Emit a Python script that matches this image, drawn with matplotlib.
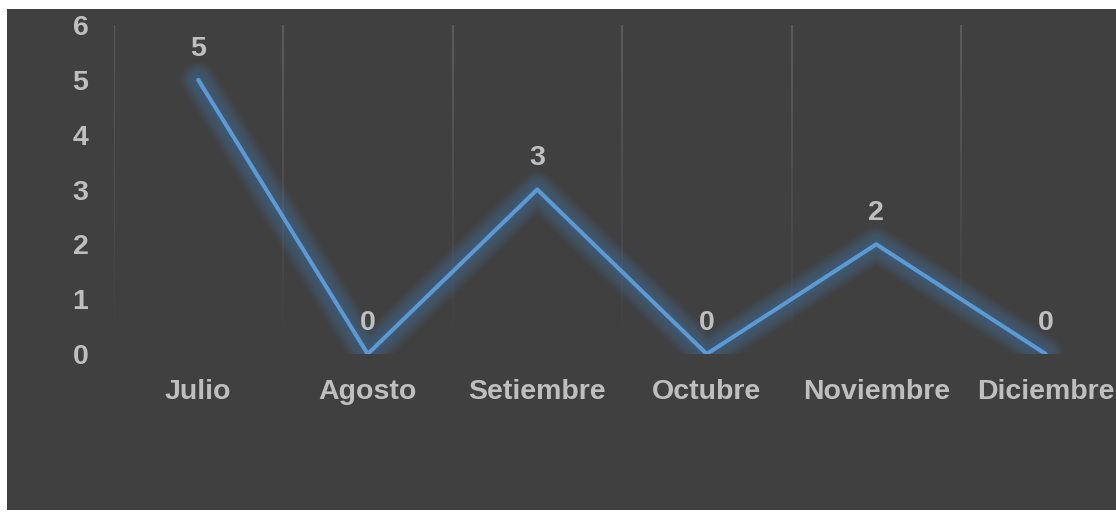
import matplotlib.pyplot as plt
import numpy as np
from matplotlib.patches import Rectangle
from matplotlib.collections import LineCollection

months = ['Julio', 'Agosto', 'Setiembre', 'Octubre', 'Noviembre', 'Diciembre']
cases = [5, 0, 3, 0, 2, 0]
y_ticks = [0, 1, 2, 3, 4, 5, 6]

bg = '#404040'
text_color = '#bfbfbf'
line_color = '#5b9bd5'

plt.rcParams['font.family'] = ['Liberation Sans', 'DejaVu Sans']
plt.rcParams['font.weight'] = 'bold'

fig = plt.figure(figsize=(11.16, 5.12), dpi=100, facecolor='white')
# dark chart area inside a thin white frame
fig.add_artist(Rectangle((7 / 1116, 2 / 512), 1, 501 / 512,
                         transform=fig.transFigure, facecolor=bg,
                         edgecolor='none', zorder=-10))

ax = fig.add_axes([113.5 / 1116, 158 / 512, 1017 / 1116, 329 / 512])
ax.set_facecolor('none')
x = np.arange(len(months))

# vertical gridlines between categories, fading out towards the bottom
n = 40
ys = np.linspace(6, 0.15, n + 1)
for xb in np.arange(-0.5, len(months)):
    segs = [[(xb, ys[k]), (xb, ys[k + 1])] for k in range(n)]
    alphas = np.linspace(0.9, 0.0, n)
    cols = [(0.37, 0.37, 0.37, a) for a in alphas]
    ax.add_collection(LineCollection(segs, colors=cols, linewidths=1.5, zorder=1))

# soft glow under the line
for w in np.linspace(26, 4, 16):
    ax.plot(x, cases, color='#4a82b8', lw=w, alpha=0.04,
            solid_capstyle='round', solid_joinstyle='round', zorder=2)
ax.plot(x, cases, color=line_color, lw=2.9,
        solid_capstyle='round', solid_joinstyle='round', zorder=3)

for xi, v in zip(x, cases):
    ax.annotate(str(v), (xi, v), xytext=(0, 13), textcoords='offset points',
                ha='center', va='bottom', color=text_color, fontsize=20.5,
                fontweight='bold')

ax.set_xlim(-0.5, len(months) - 0.5)
ax.set_ylim(0, 6)
ax.set_xticks(x, months)
ax.set_yticks(y_ticks)
ax.tick_params(axis='both', length=0, colors=text_color, labelsize=20.5)
ax.tick_params(axis='x', pad=18)
ax.tick_params(axis='y', pad=18)
for s in ax.spines.values():
    s.set_visible(False)

fig.savefig('out.png', dpi=100, facecolor='white')
